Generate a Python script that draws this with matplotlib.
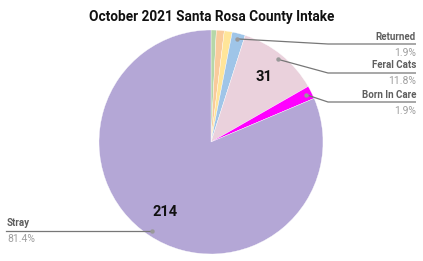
import numpy as np
import matplotlib.pyplot as plt

plt.rcParams['font.family'] = ['Roboto', 'DejaVu Sans']

# slices, clockwise from 12 o'clock
categories = ['Owner Surrender', 'Transfer In', 'Other', 'Returned', 'Feral Cats', 'Born In Care', 'Stray']
counts = [2, 3, 3, 5, 31, 5, 214]
colors = ['#b6d7a8', '#f9cb9c', '#ffe599', '#9fc5e8', '#ead1dc', '#ff00ff', '#b4a7d6']

# which slices get a callout, and which get the count printed inside
callouts = ['Returned', 'Feral Cats', 'Born In Care', 'Stray']
inside = ['Feral Cats', 'Stray']

W, H = 423, 261
cx, cy, R = 211, H - 142, 112

fig = plt.figure(figsize=(W / 100, H / 100), dpi=100)
ax = fig.add_axes([0, 0, 1, 1])
ax.pie(counts, colors=colors, startangle=90, counterclock=False,
       center=(cx, cy), radius=R, frame=False,
       wedgeprops=dict(edgecolor='white', linewidth=0.25))
ax.set_xlim(0, W)
ax.set_ylim(0, H)
ax.set_aspect('auto')
ax.axis('off')

total = sum(counts)
cum = np.cumsum([0] + counts)

def point(i, frac):
    mid = (cum[i] + counts[i] / 2) / total * 2 * np.pi  # clockwise from top
    return cx + frac * R * np.sin(mid), cy + frac * R * np.cos(mid)

for name in inside:
    i = categories.index(name)
    x, y = point(i, 0.75)
    ax.text(x, y, str(counts[i]), ha='center', va='center', fontsize=10.5,
            fontweight='bold', color='#111111')

# callout layout: line level (pixels from top), side
right_levels = {'Returned': 44, 'Feral Cats': 73, 'Born In Care': 102}
for name in callouts:
    i = categories.index(name)
    pct = '%.1f%%' % (100 * counts[i] / total)
    dx, dy = point(i, 0.95)
    if name in right_levels:
        ly = H - right_levels[name]
        ax.plot([dx, 328, 416], [dy, ly, ly], color='#777777', lw=0.9,
                solid_capstyle='butt')
        tx, ha = 416, 'right'
    else:
        ly = dy
        ax.plot([6, dx], [ly, ly], color='#777777', lw=0.9)
        tx, ha = 7, 'left'
    ax.plot(dx, dy, 'o', ms=3.2, color='#999999', mec='none')
    ax.text(tx, ly + 2.5, name, ha=ha, va='bottom', fontsize=7,
            fontweight='bold', color='#5f5f5f')
    ax.text(tx, ly - 3.5, pct, ha=ha, va='top', fontsize=7.5,
            color='#9e9e9e')

ax.text(W / 2, H - 17, 'October 2021 Santa Rosa County Intake', ha='center',
        va='center', fontsize=9.8, fontweight='bold', color='#111111')

fig.savefig('out.png', dpi=100)
